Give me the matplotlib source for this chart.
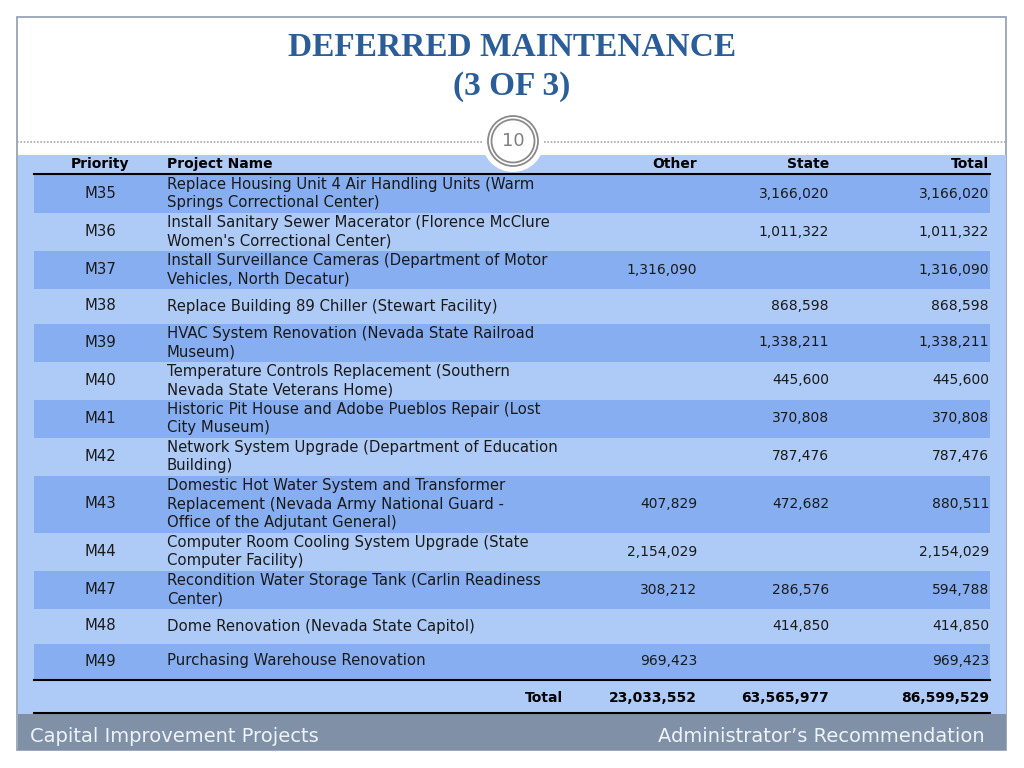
import matplotlib
matplotlib.use("Agg")
import matplotlib.pyplot as plt
from matplotlib.patches import Rectangle, Circle

# ---- data ----
priorities = ["M35", "M36", "M37", "M38", "M39", "M40", "M41", "M42", "M43", "M44", "M47", "M48", "M49"]
project_names = [
    "Replace Housing Unit 4 Air Handling Units (Warm\nSprings Correctional Center)",
    "Install Sanitary Sewer Macerator (Florence McClure\nWomen's Correctional Center)",
    "Install Surveillance Cameras (Department of Motor\nVehicles, North Decatur)",
    "Replace Building 89 Chiller (Stewart Facility)",
    "HVAC System Renovation (Nevada State Railroad\nMuseum)",
    "Temperature Controls Replacement (Southern\nNevada State Veterans Home)",
    "Historic Pit House and Adobe Pueblos Repair (Lost\nCity Museum)",
    "Network System Upgrade (Department of Education\nBuilding)",
    "Domestic Hot Water System and Transformer\nReplacement (Nevada Army National Guard -\nOffice of the Adjutant General)",
    "Computer Room Cooling System Upgrade (State\nComputer Facility)",
    "Recondition Water Storage Tank (Carlin Readiness\nCenter)",
    "Dome Renovation (Nevada State Capitol)",
    "Purchasing Warehouse Renovation",
]
other = [None, None, 1316090, None, None, None, None, None, 407829, 2154029, 308212, None, 969423]
state = [3166020, 1011322, None, 868598, 1338211, 445600, 370808, 787476, 472682, None, 286576, 414850, None]
total = [3166020, 1011322, 1316090, 868598, 1338211, 445600, 370808, 787476, 880511, 2154029, 594788, 414850, 969423]
grand_totals = [23033552, 63565977, 86599529]
headers = ["Priority", "Project Name", "Other", "State", "Total"]
title_lines = ["DEFERRED MAINTENANCE", "(3 OF 3)"]
page_number = "10"
footer_left = "Capital Improvement Projects"
footer_right = "Administrator\u2019s Recommendation"

# ---- style ----
TITLE_C = "#2b5d99"
LIGHT = "#aecaf6"
DARK = "#86aef0"
FOOT = "#7f90a7"
BORDER = "#8e9cb0"
FONT = "DejaVu Sans"
FS = 10.7
FSN = 10.0
FSB = 10.0
TXT = "#1a1a1a"

fig = plt.figure(figsize=(10.24, 7.68), dpi=100)
ax = fig.add_axes([0, 0, 1, 1])
ax.set_xlim(0, 1024)
ax.set_ylim(768, 0)
ax.axis("off")

# slide border and background
ax.add_patch(Rectangle((17, 17), 989, 733, facecolor="white", edgecolor=BORDER, lw=1.2, zorder=0))
ax.add_patch(Rectangle((17.5, 155), 988, 560, facecolor=LIGHT, edgecolor="none", zorder=1))
ax.add_patch(Rectangle((17.5, 714), 988, 36, facecolor=FOOT, edgecolor="none", zorder=1))

# title
ax.text(512, 47, title_lines[0], ha="center", va="center", color=TITLE_C,
        fontsize=24, fontweight="bold", family="Liberation Serif", zorder=5)
ax.text(512, 87, title_lines[1], ha="center", va="center", color=TITLE_C,
        fontsize=24, fontweight="bold", family="Liberation Serif", zorder=5)

# dotted separator and page circle
ax.plot([17, 483], [142, 142], color="#a6a6a6", lw=1.2, ls=(0, (1, 1)), zorder=2)
ax.plot([544, 1006], [142, 142], color="#a6a6a6", lw=1.2, ls=(0, (1, 1)), zorder=2)
ax.add_patch(Circle((513, 141), 31, facecolor="white", edgecolor="none", zorder=3))
ax.add_patch(Circle((513, 141), 25, facecolor="none", edgecolor="#8a8a8a", lw=1.3, zorder=4))
ax.add_patch(Circle((513, 141), 21.5, facecolor="none", edgecolor="#8a8a8a", lw=1.3, zorder=4))
ax.text(513, 141, page_number, ha="center", va="center", color="#7f7f7f", fontsize=13,
        family=FONT, zorder=5)

# columns
X_PRI = 100
X_NAME = 167
X_OTHER = 697
X_STATE = 829
X_TOTAL = 989
TBL_L, TBL_R = 34, 990

# header
HY = 164
hkw = dict(fontsize=FSB, fontweight="bold", family=FONT, va="center", color="black", zorder=5)
ax.text(X_PRI, HY, headers[0], ha="center", **hkw)
ax.text(X_NAME, HY, headers[1], ha="left", **hkw)
ax.text(X_OTHER, HY, headers[2], ha="right", **hkw)
ax.text(X_STATE, HY, headers[3], ha="right", **hkw)
ax.text(X_TOTAL, HY, headers[4], ha="right", **hkw)
ax.plot([TBL_L, TBL_R], [173.5, 173.5], color="black", lw=1.5, zorder=5)

LINE_H = 18.7
def fmt(v):
    return "" if v is None else f"{v:,}"

y = 174.5
bkw = dict(fontsize=FS, family=FONT, va="center", color=TXT, zorder=5)
nkw = dict(fontsize=FSN, family=FONT, va="center", color=TXT, zorder=5)
for i, (p, name, o, s, t) in enumerate(zip(priorities, project_names, other, state, total)):
    lines = name.split("\n")
    n = len(lines)
    h = 35 if n == 1 else 19 * n
    if i % 2 == 0:
        ax.add_patch(Rectangle((TBL_L, y), TBL_R - TBL_L, h, facecolor=DARK, edgecolor="none", zorder=2))
    cy = y + h / 2
    ax.text(X_PRI, cy, p, ha="center", **bkw)
    for k, ln in enumerate(lines):
        ax.text(X_NAME, cy + (k - (n - 1) / 2) * LINE_H, ln, ha="left", **bkw)
    ax.text(X_OTHER, cy, fmt(o), ha="right", **nkw)
    ax.text(X_STATE, cy, fmt(s), ha="right", **nkw)
    ax.text(X_TOTAL, cy, fmt(t), ha="right", **nkw)
    y += h

ax.plot([TBL_L, TBL_R], [y + 1, y + 1], color="black", lw=1.5, zorder=5)
ty = y + 19
tkw = dict(fontsize=FSB, fontweight="bold", family=FONT, va="center", color="black", zorder=5)
ax.text(563, ty, "Total", ha="right", **tkw)
ax.text(X_OTHER, ty, fmt(grand_totals[0]), ha="right", **tkw)
ax.text(X_STATE, ty, fmt(grand_totals[1]), ha="right", **tkw)
ax.text(X_TOTAL, ty, fmt(grand_totals[2]), ha="right", **tkw)
ax.plot([TBL_L, TBL_R], [713, 713], color="black", lw=1.5, zorder=5)

# footer
ax.text(30, 737, footer_left, ha="left", va="center", color="#eef3fa", fontsize=14, family=FONT, zorder=5)
ax.text(985, 737, footer_right, ha="right", va="center", color="#eef3fa", fontsize=14, family=FONT, zorder=5)

fig.savefig("out.png", dpi=100)
